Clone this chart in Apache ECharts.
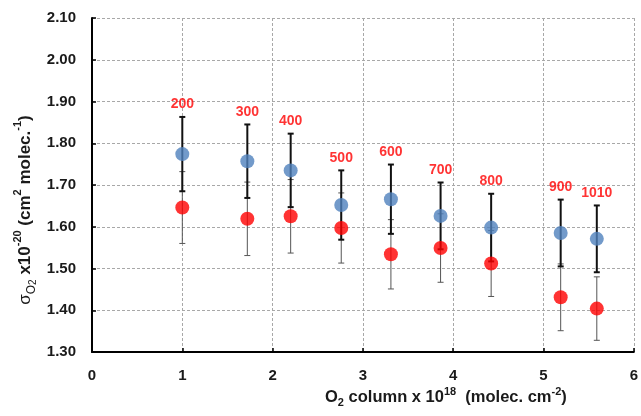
<!DOCTYPE html>
<html>
<head>
<meta charset="utf-8">
<script src="https://cdn.jsdelivr.net/npm/echarts@6/dist/echarts.min.js"></script>
<style>html,body{margin:0;padding:0;background:#fff}#c{width:641px;height:416px}</style>
</head>
<body>
<div id="c"></div>
<script>
// O2 column (x 10^18 molec. cm-2)
const columns = [1.00, 1.72, 2.20, 2.76, 3.31, 3.86, 4.42, 5.19, 5.59];
// pressure labels
const pointLabels = ['200', '300', '400', '500', '600', '700', '800', '900', '1010'];
// blue series values and error half-widths
const blueValues = [1.774, 1.757, 1.735, 1.652, 1.666, 1.626, 1.598, 1.585, 1.571];
const blueErrors = [0.089, 0.088, 0.088, 0.083, 0.083, 0.080, 0.081, 0.080, 0.080];
// red series values and error half-widths
const redValues = [1.646, 1.619, 1.625, 1.597, 1.534, 1.549, 1.512, 1.431, 1.404];
const redErrors = [0.086, 0.088, 0.088, 0.084, 0.083, 0.082, 0.079, 0.080, 0.076];
// axis ticks
const xTicks = [0, 1, 2, 3, 4, 5, 6];
const yTicks = [1.30, 1.40, 1.50, 1.60, 1.70, 1.80, 1.90, 2.00, 2.10];

const FONT = "'Liberation Sans', Arial, sans-serif";

function errorSeries(values, errors, color, width, capHalf, z) {
  return {
    type: 'custom',
    z: z,
    silent: true,
    data: columns.map((x, i) => [x, values[i], errors[i]]),
    encode: { x: 0, y: 1 },
    renderItem: function (params, api) {
      const x = api.value(0), y = api.value(1), e = api.value(2);
      const top = api.coord([x, y + e]);
      const bot = api.coord([x, y - e]);
      const st = { stroke: color, lineWidth: width };
      return {
        type: 'group',
        children: [
          { type: 'line', shape: { x1: top[0], y1: top[1], x2: bot[0], y2: bot[1] }, style: st },
          { type: 'line', shape: { x1: top[0] - capHalf, y1: top[1], x2: top[0] + capHalf, y2: top[1] }, style: st },
          { type: 'line', shape: { x1: bot[0] - capHalf, y1: bot[1], x2: bot[0] + capHalf, y2: bot[1] }, style: st }
        ]
      };
    }
  };
}

const chart = echarts.init(document.getElementById('c'), null, { renderer: 'canvas' });
const option = {
  animation: false,
  backgroundColor: '#fff',
  grid: { left: 92, right: 7, top: 18, bottom: 64, containLabel: false },
  xAxis: {
    type: 'value',
    min: xTicks[0], max: xTicks[xTicks.length - 1], interval: 1,
    axisLine: { show: true, onZero: false, lineStyle: { color: '#000', width: 2 } },
    axisTick: { show: true, inside: true, length: 4, lineStyle: { color: '#000', width: 1.5 } },
    axisLabel: { color: '#1a1a1a', fontSize: 15, fontWeight: 'bold', fontFamily: FONT, margin: 16 },
    splitLine: { show: true, lineStyle: { color: '#a8a8a8', width: 1, type: [3, 2] } }
  },
  yAxis: {
    type: 'value',
    min: yTicks[0], max: yTicks[yTicks.length - 1], interval: 0.1,
    axisLine: { show: true, onZero: false, lineStyle: { color: '#000', width: 2 } },
    axisTick: { show: true, inside: true, length: 4, lineStyle: { color: '#000', width: 1.5 } },
    axisLabel: { color: '#1a1a1a', fontSize: 15, fontWeight: 'bold', fontFamily: FONT, margin: 16,
      formatter: v => v.toFixed(2) },
    splitLine: { show: true, lineStyle: { color: '#a8a8a8', width: 1, type: [3, 2] } }
  },
  graphic: [
    {
      type: 'text',
      left: 325, top: 386,
      style: {
        text: '{t|O}{sub|2}{t| column x 10}{sup|18}{t|  (molec. cm}{sup|-2}{t|)}',
        fill: '#1a1a1a',
        rich: {
          t: { fontSize: 16.5, fontWeight: 'bold', fontFamily: FONT, fill: '#1a1a1a', lineHeight: 22, verticalAlign: 'middle' },
          sub: { fontSize: 11, fontWeight: 'bold', fontFamily: FONT, fill: '#1a1a1a', verticalAlign: 'bottom', lineHeight: 13 },
          sup: { fontSize: 11, fontWeight: 'bold', fontFamily: FONT, fill: '#1a1a1a', verticalAlign: 'top', lineHeight: 13 }
        }
      }
    },
    {
      type: 'text',
      x: 25, y: 210,
      rotation: Math.PI / 2,
      style: {
        text: '{s|σ}{sub|O}{ss|2}{t| x10}{sup|-20}{t| (cm}{sup|2}{t| molec.}{sup|-1}{t|)}',
        fill: '#1a1a1a',
        align: 'center',
        verticalAlign: 'middle',
        rich: {
          s: { fontSize: 17, fontFamily: FONT, fill: '#1a1a1a', lineHeight: 26, verticalAlign: 'middle' },
          t: { fontSize: 17, fontWeight: 'bold', fontFamily: FONT, fill: '#1a1a1a', lineHeight: 26, verticalAlign: 'middle' },
          sub: { fontSize: 12, fontFamily: FONT, fill: '#1a1a1a', verticalAlign: 'bottom', lineHeight: 18 },
          ss: { fontSize: 10, fontFamily: FONT, fill: '#1a1a1a', verticalAlign: 'bottom', lineHeight: 11 },
          sup: { fontSize: 11, fontWeight: 'bold', fontFamily: FONT, fill: '#1a1a1a', verticalAlign: 'top', lineHeight: 15 }
        }
      }
    }
  ],
  series: [
    errorSeries(redValues, redErrors, '#555', 1, 3, 2),
    errorSeries(blueValues, blueErrors, '#111', 2, 3, 3),
    {
      type: 'scatter', z: 5,
      data: columns.map((x, i) => [x, redValues[i]]),
      symbol: 'circle', symbolSize: 14,
      itemStyle: { color: '#FF0000' }
    },
    {
      type: 'scatter', z: 6,
      data: columns.map((x, i) => [x, blueValues[i]]),
      symbol: 'circle', symbolSize: 14,
      itemStyle: { color: '#4F81BD' }
    },
    {
      type: 'scatter', z: 7,
      silent: true,
      data: columns.map((x, i) => ({ value: [x, blueValues[i] + blueErrors[i]], label: { formatter: pointLabels[i] } })),
      symbolSize: 1,
      itemStyle: { color: 'rgba(0,0,0,0)' },
      label: {
        show: true, position: 'top', distance: 5,
        color: '#FF0000', fontSize: 14, fontWeight: 'bold', fontFamily: FONT
      }
    }
  ]
};
chart.setOption(option);
</script>
</body>
</html>
